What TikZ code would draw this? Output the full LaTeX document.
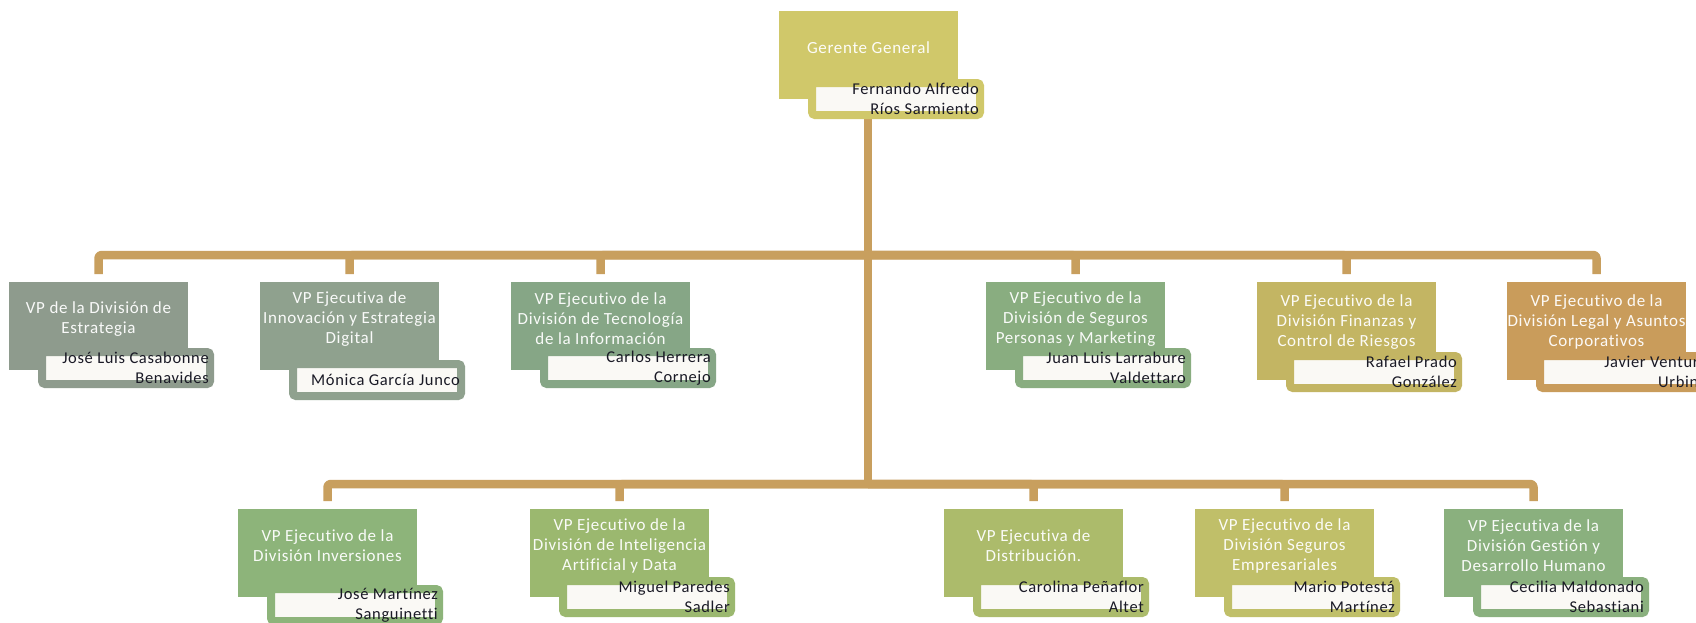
\documentclass[tikz,border=0pt]{standalone}
\usepackage{fontspec}
\setmainfont[LetterSpace=4, Ligatures={NoCommon}]{Carlito}

% box colours
\definecolor{cTop}{HTML}{D0C86A}
\definecolor{cEst}{HTML}{8E9B8D}
\definecolor{cInn}{HTML}{8FA18E}
\definecolor{cTec}{HTML}{86A686}
\definecolor{cSeg}{HTML}{89AD80}
\definecolor{cFin}{HTML}{C3B563}
\definecolor{cLeg}{HTML}{C99C5B}
\definecolor{cInv}{HTML}{8DB47A}
\definecolor{cIA}{HTML}{9BB86F}
\definecolor{cDis}{HTML}{ACBB6B}
\definecolor{cEmp}{HTML}{C0BF69}
\definecolor{cGes}{HTML}{8AB07E}
\definecolor{cLink}{HTML}{C89F5E}
\definecolor{cNameFill}{HTML}{FAF9F5}
\definecolor{cNameText}{HTML}{1A1A26}

\tikzset{
  mainbox/.style={rectangle, inner sep=0pt, minimum width=179pt, draw=none},
  namebox/.style={rectangle, rounded corners=3pt, line width=8pt, fill=cNameFill,
                  inner sep=0pt, minimum width=168pt, minimum height=32pt},
  titletext/.style={align=center, text=white, text opacity=0.95, inner sep=0pt,
                    font=\fontsize{17}{20}\selectfont},
  persontext/.style={align=right, text=cNameText, inner sep=0pt, anchor=east,
                     font=\fontsize{16.5}{20}\selectfont},
  conn/.style={draw=cLink, line width=8.5pt, line join=round, rounded corners=3pt},
}

% #1 id, #2 colour, #3 left, #4 top, #5 height, #6 name-box top, #7 title, #8 person
\newcommand\orgunit[8]{%
  \node[mainbox, fill=#2, minimum height=#5pt] (#1) at (#3+89.5, #4+#5/2) {};
  \node[titletext] (#1t) at (#3+89.5, #4+37+#5/3-88/3) {#7};
  \node[namebox, draw=#2] (#1n) at (#3+29+88, #6+20) {};
  \node[persontext] (#1p) at ([xshift=-5pt]#1n.east) {#8};
}

\begin{document}
\begin{tikzpicture}[x=1pt, y=-1pt]
\clip (0,0) rectangle (1696,622);
\fill[white] (0,0) rectangle (1696,622);

% junctions of the two distribution bars
\coordinate (tc) at (868,55);
\coordinate (j1) at (868,255);
\coordinate (j2) at (868,484);

% ---- connectors (drawn under the boxes) ----
\draw[conn] (tc) -- (j2);
\foreach \cx in {98.5,349.5,600.5,1075.5,1346.5,1596.5}{
  \draw[conn] (j1) -| (\cx,274);
}
\foreach \cx in {327.5,619.5,1033.5,1284.5,1533.5}{
  \draw[conn] (j2) -| (\cx,501);
}

% ---- units ----
\orgunit{T}{cTop}{779}{11}{88}{79}{Gerente General}{Fernando Alfredo\\Ríos Sarmiento}

\orgunit{A}{cEst}{9}{282}{88}{348}{VP de la División de\\Estrategia}{José Luis Casabonne\\Benavides}
\orgunit{B}{cInn}{260}{282}{88}{360}{VP Ejecutiva de\\Innovación y Estrategia\\Digital}{Mónica García Junco}
\orgunit{C}{cTec}{511}{282}{88}{348}{VP Ejecutivo de la\\División de Tecnología\\de la Información}{Carlos Herrera\\Cornejo}
\orgunit{D}{cSeg}{986}{282}{88}{348}{VP Ejecutivo de la\\División de Seguros\\Personas y Marketing}{Juan Luis Larrabure\\Valdettaro}
\orgunit{E}{cFin}{1257}{282}{98}{352}{VP Ejecutivo de la\\División Finanzas y\\Control de Riesgos}{Rafael Prado\\González}
\orgunit{F}{cLeg}{1507}{282}{98}{352}{VP Ejecutivo de la\\División Legal y Asuntos\\Corporativos}{Javier Ventura\\Urbina}

\orgunit{G}{cInv}{238}{509}{88}{585}{VP Ejecutivo de la\\División Inversiones}{José Martínez\\Sanguinetti}
\orgunit{H}{cIA}{530}{509}{88}{577}{VP Ejecutivo de la\\División de Inteligencia\\Artificial y Data}{Miguel Paredes\\Sadler}
\orgunit{I}{cDis}{944}{509}{88}{577}{VP Ejecutiva de\\Distribución.}{Carolina Peñaflor\\Altet}
\orgunit{J}{cEmp}{1195}{509}{88}{577}{VP Ejecutivo de la\\División Seguros\\Empresariales}{Mario Potestá\\Martínez}
\orgunit{K}{cGes}{1444}{509}{88}{577}{VP Ejecutiva de la\\División Gestión y\\Desarrollo Humano}{Cecilia Maldonado\\Sebastiani}
\end{tikzpicture}
\end{document}
